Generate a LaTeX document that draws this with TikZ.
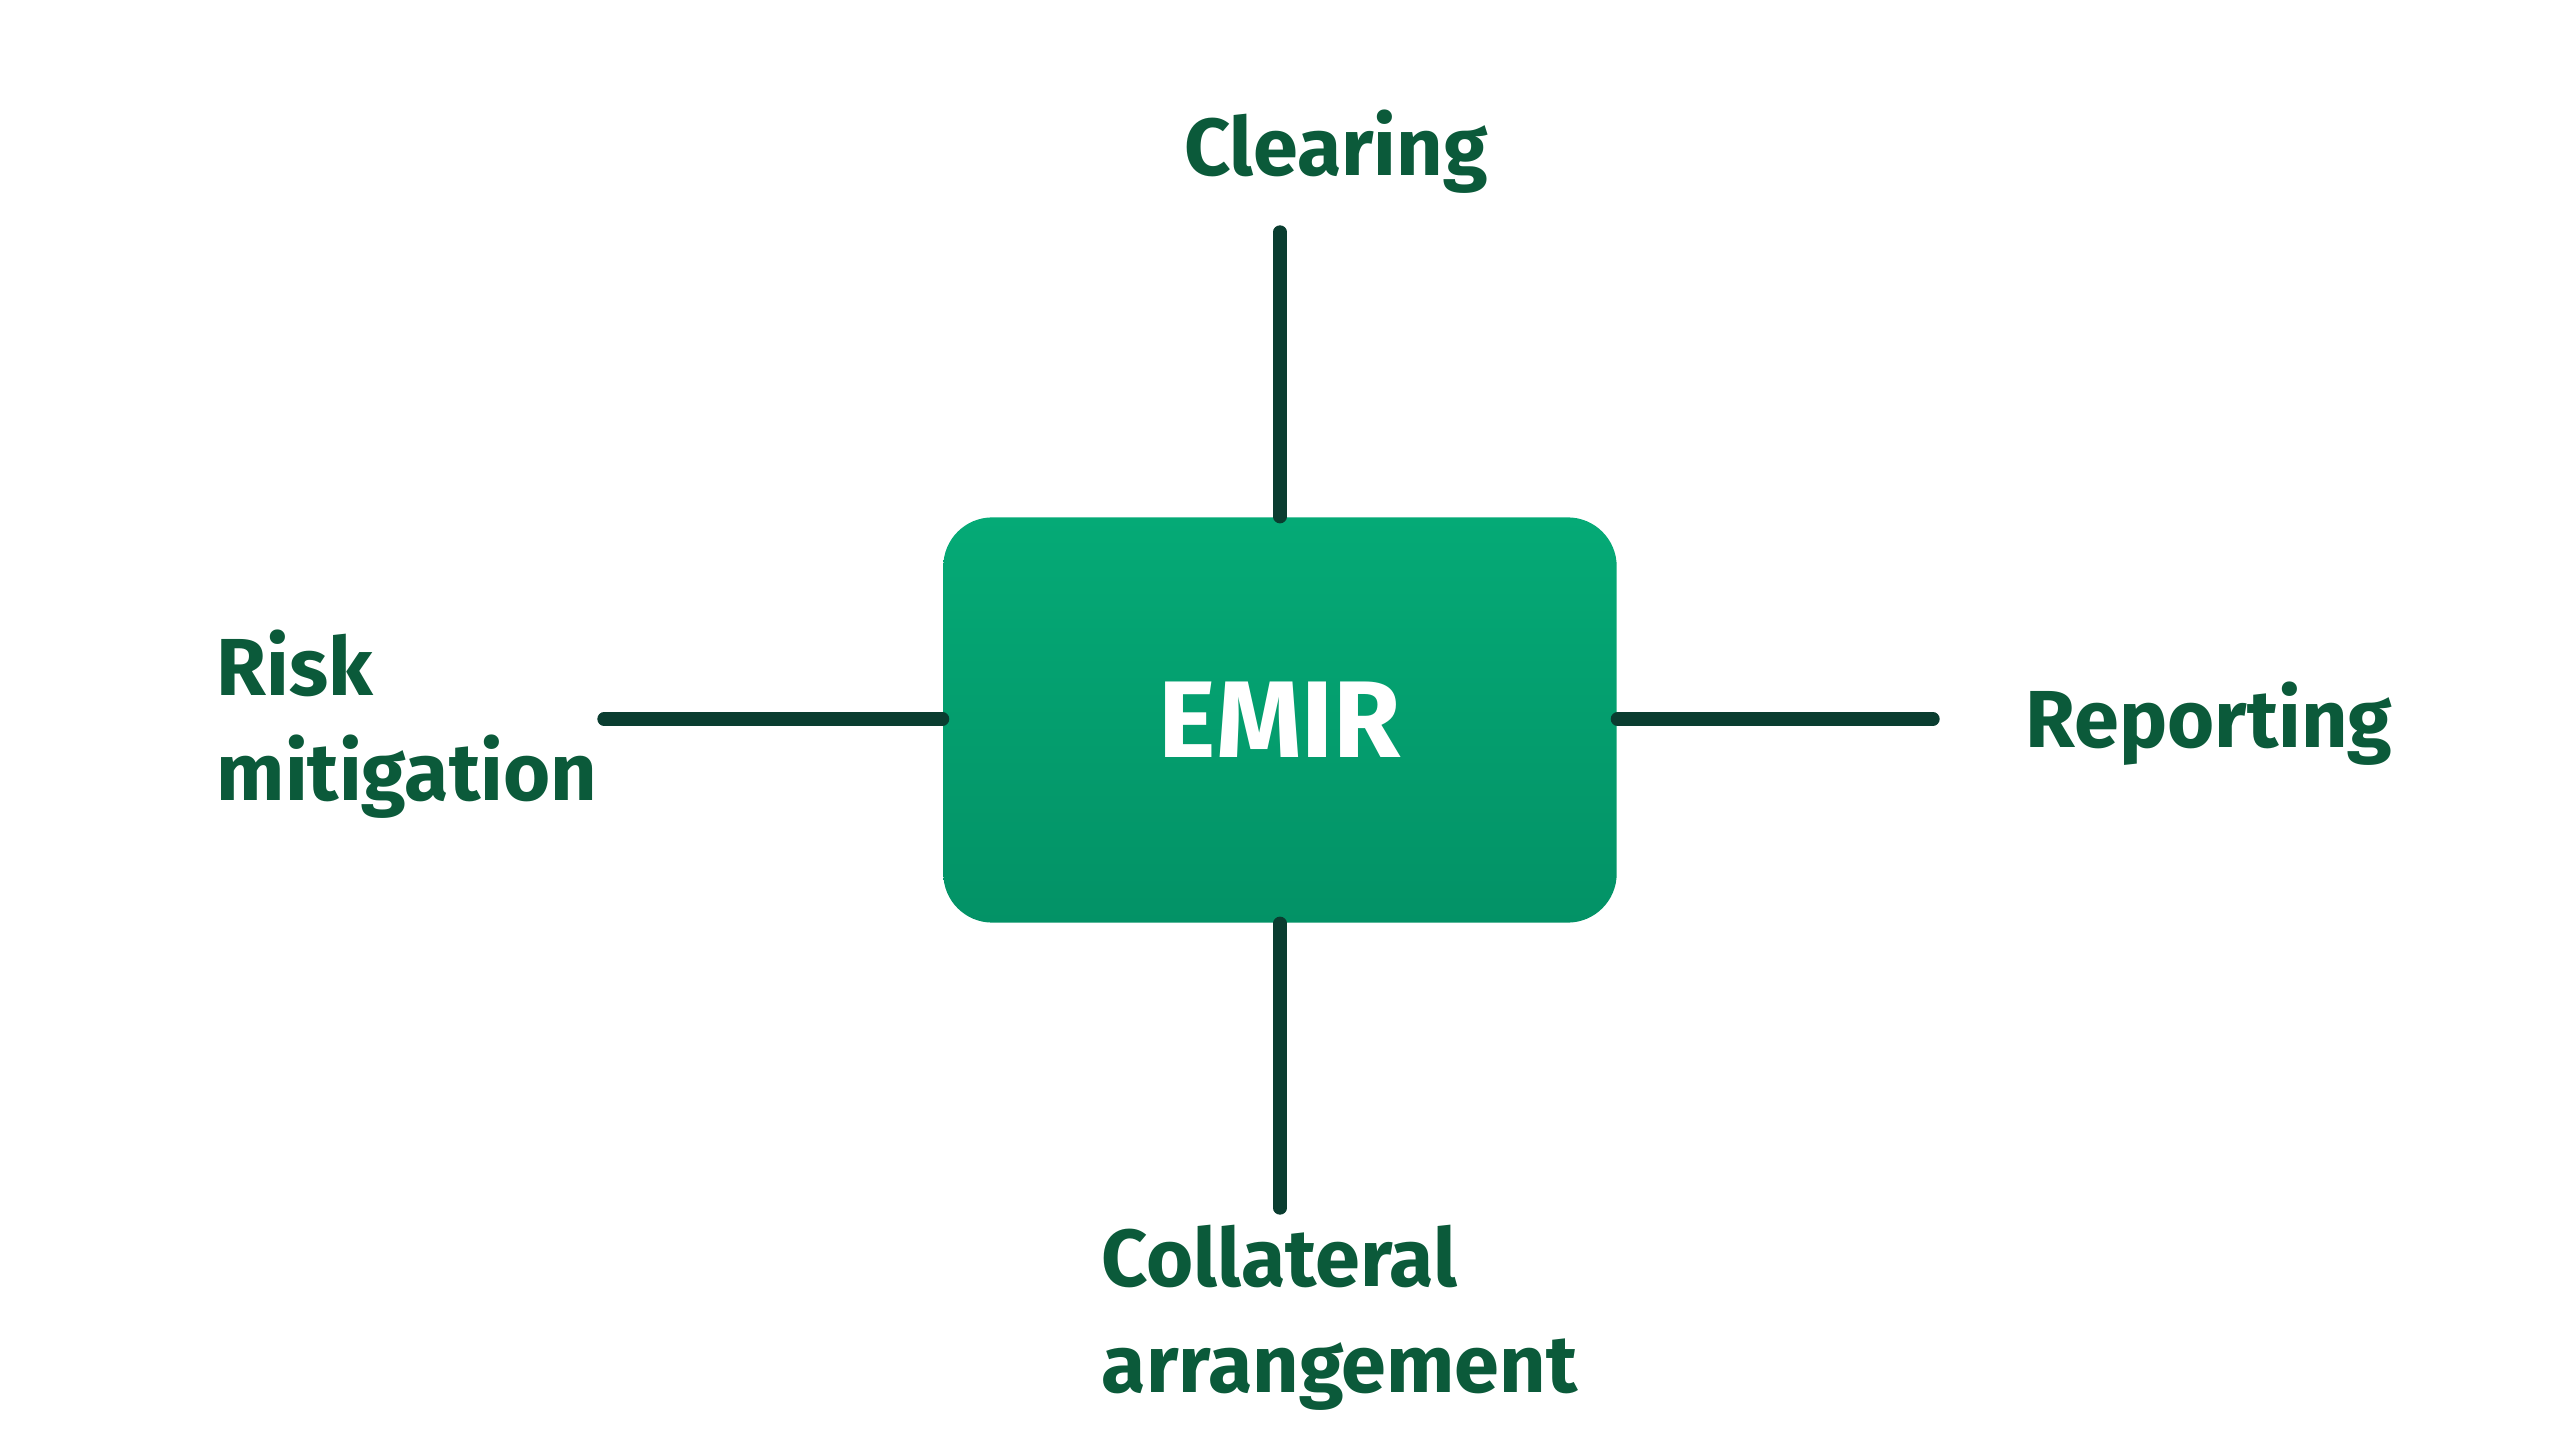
\documentclass[tikz,border=0pt]{standalone}
\usepackage{fontspec}
\setmainfont{Fira Sans}
\begin{document}
\definecolor{txt}{HTML}{0B5A3A}
\definecolor{ln}{HTML}{0A3D30}
\definecolor{gA}{HTML}{05AA76}
\definecolor{gB}{HTML}{039266}
\begin{tikzpicture}[x=0.01cm,y=-0.01cm,
  lbl/.style={text=txt,font=\fontsize{23}{30}\selectfont\bfseries,inner sep=0pt},
  conn/.style={draw=ln,line width=3.8pt,line cap=round}]
\useasboundingbox (0,0) rectangle (2560,1440);
\node[minimum width=6.73cm,minimum height=4.05cm,rounded corners=0.49cm,
  left color=gA,right color=gB,shading angle=0,inner sep=0pt,
  text=white,font=\fontsize{31}{36}\selectfont\bfseries] (emir) at (1280,720) {EMIR};
\coordinate (t) at (1280,232);
\coordinate (b) at (1280,1208);
\coordinate (l) at (604,719);
\coordinate (r) at (1933,719);
\draw[conn] (t) -- (emir.north);
\draw[conn] (b) -- (emir.south);
\draw[conn] (l) -- (emir.west |- l);
\draw[conn] (r) -- (emir.east |- r);
\node[lbl] (clr) at (1336,152) {Clearing};
\node[lbl,anchor=west,align=left] (risk) at (216,724) {Risk\\mitigation};
\node[lbl,anchor=west] (rep) at (2025,724) {Reporting};
\node[lbl,anchor=west,align=left] (col) at (1101,1318) {Collateral\\arrangement};
\end{tikzpicture}
\end{document}
